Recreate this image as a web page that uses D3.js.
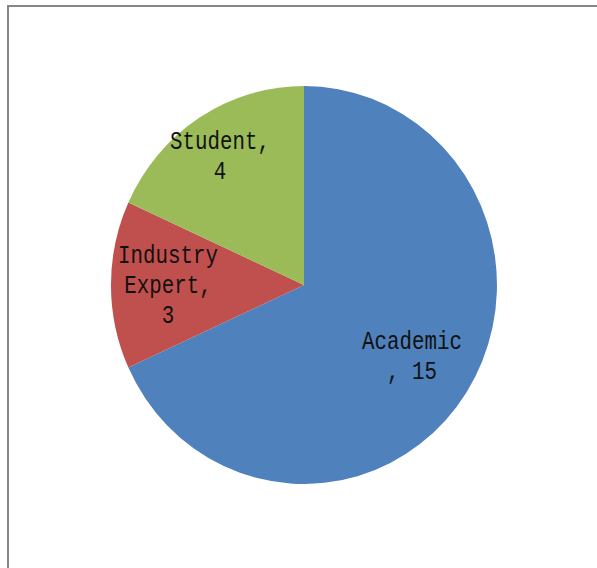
<!DOCTYPE html>
<html><head><meta charset="utf-8">
<script src="https://cdn.jsdelivr.net/npm/d3@7"></script>
<style>html,body{margin:0;padding:0;background:#fff;}svg{display:block;}</style>
</head><body>
<script>
const categories = ["Academic", "Industry Expert", "Student"];
const values = [15, 3, 4];
const colors = ["#4F81BD", "#C0504D", "#9BBB59"];
const labelLines = [["Academic", ", 15"], ["Industry", "Expert,", "3"], ["Student,", "4"]];

const W = 597, H = 568;
const svg = d3.select("body").append("svg").attr("width", W).attr("height", H);

// frame
svg.append("line").attr("x1", 7).attr("y1", 6).attr("x2", W).attr("y2", 6)
  .attr("stroke", "#868686").attr("stroke-width", 2);
svg.append("line").attr("x1", 8).attr("y1", 6).attr("x2", 8).attr("y2", H)
  .attr("stroke", "#868686").attr("stroke-width", 2);

const cx = 304, cy = 285, rx = 193, ry = 199;
const pie = d3.pie().sort(null).value(d => d)(values);
const arc = d3.arc().innerRadius(0).outerRadius(1);

const g = svg.append("g").attr("transform", `translate(${cx},${cy}) scale(${rx},${ry})`);
g.selectAll("path").data(pie).join("path")
  .attr("d", arc)
  .attr("fill", (d, i) => colors[i]);

// label positions (centre x, first baseline y)
const labelPos = [[412, 349], [168, 263], [220, 149]];
const lh = 30;
labelLines.forEach((lines, i) => {
  lines.forEach((ln, j) => {
    const x = labelPos[i][0], y = labelPos[i][1] + j * lh;
    svg.append("text")
      .attr("transform", `translate(${x},${y}) scale(1,1.2)`)
      .attr("font-family", "'Liberation Mono', 'Courier New', monospace")
      .attr("font-size", 20.8)
      .attr("fill", "#111")
      .attr("text-anchor", "middle")
      .text(ln);
  });
});
</script>
</body></html>
